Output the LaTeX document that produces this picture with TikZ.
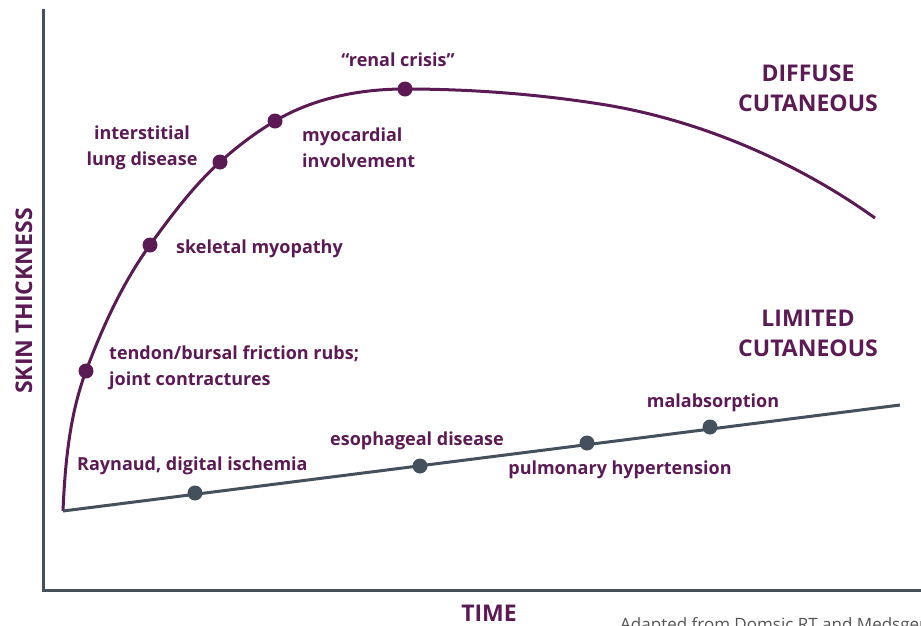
\documentclass[tikz,border=0pt]{standalone}
\usepackage{fontspec}
\setmainfont{Open Sans}
\begin{document}
\definecolor{plum}{HTML}{5C1A55}
\definecolor{slate}{HTML}{44505C}
\definecolor{notegray}{HTML}{555555}
\begin{tikzpicture}[x=1pt,y=-1pt,
  axisline/.style={slate,line width=3pt},
  trend/.style={line width=3pt},
  dot/.style={circle,fill=#1,minimum size=15pt,inner sep=0pt},
  lbl/.style={text=plum,font=\fontsize{18}{26}\selectfont\bfseries,inner sep=0pt,align=left},
  head/.style={text=plum,font=\fontsize{23}{30}\selectfont\bfseries,inner sep=0pt,align=center}]
\useasboundingbox (0,0) rectangle (921,625);
% axes
\draw[axisline] (43,9) -- (43,590) -- (921,590);
\node[head,rotate=90] (yax) at (24,301) {SKIN THICKNESS};
\node[head] (xax) at (489,613) {TIME};
% course points
\coordinate (p0) at (63,511);
\coordinate (p1) at (86,371);
\coordinate (p2) at (150,245);
\coordinate (p3) at (220,162);
\coordinate (p4) at (275,121);
\coordinate (p5) at (405,89);
\coordinate (p6) at (600,104);
\coordinate (p7) at (875,218);
\coordinate (le) at (900,405);
% diffuse cutaneous course
\draw[plum,trend] (p0)
  .. controls (65,464) and (69.5,415) .. (p1)
  .. controls (102.5,327) and (122.5,283) .. (p2)
  .. controls (171,216) and (193.4,186) .. (p3)
  .. controls (237,146.6) and (255.3,132.8) .. (p4)
  .. controls (313.6,98) and (360,89) .. (p5)
  .. controls (470,89) and (536,94) .. (p6)
  .. controls (697,119) and (795.5,161) .. (p7);
% limited cutaneous course
\draw[slate,trend] (p0) -- (le);
% events along the diffuse course
\node[dot=plum] (d1) at (p1) {};
\node[dot=plum] (d2) at (p2) {};
\node[dot=plum] (d3) at (p3) {};
\node[dot=plum] (d4) at (p4) {};
\node[dot=plum] (d5) at (p5) {};
% events along the limited course
\node[dot=slate] (l1) at (195,493) {};
\node[dot=slate] (l2) at (420,466) {};
\node[dot=slate] (l3) at (587,443) {};
\node[dot=slate] (l4) at (710,427) {};
% labels
\node[lbl,anchor=west] (t1) at (109,368) {tendon/bursal friction rubs;\\joint contractures};
\node[lbl,anchor=west] (t2) at (176,249) {skeletal myopathy};
\node[lbl,align=center] (t3) at (142,148) {interstitial\\lung disease};
\node[lbl,anchor=west] (t4) at (302,148) {myocardial\\involvement};
\node[lbl] (t5) at (398,60) {“renal crisis”};
\node[lbl,anchor=west] (t6) at (77,466) {Raynaud, digital ischemia};
\node[lbl] (t7) at (417,441) {esophageal disease};
\node[lbl] (t8) at (620,470) {pulmonary hypertension};
\node[lbl] (t9) at (713,403) {malabsorption};
\node[head] (h1) at (808,88) {DIFFUSE\\CUTANEOUS};
\node[head] (h2) at (808,333) {LIMITED\\CUTANEOUS};
% source note
\node[anchor=base west,inner sep=0pt,text=notegray,font=\fontsize{17}{20}\selectfont] (src) at (620,630) {Adapted from Domsic RT and Medsger TA};
\end{tikzpicture}
\end{document}
